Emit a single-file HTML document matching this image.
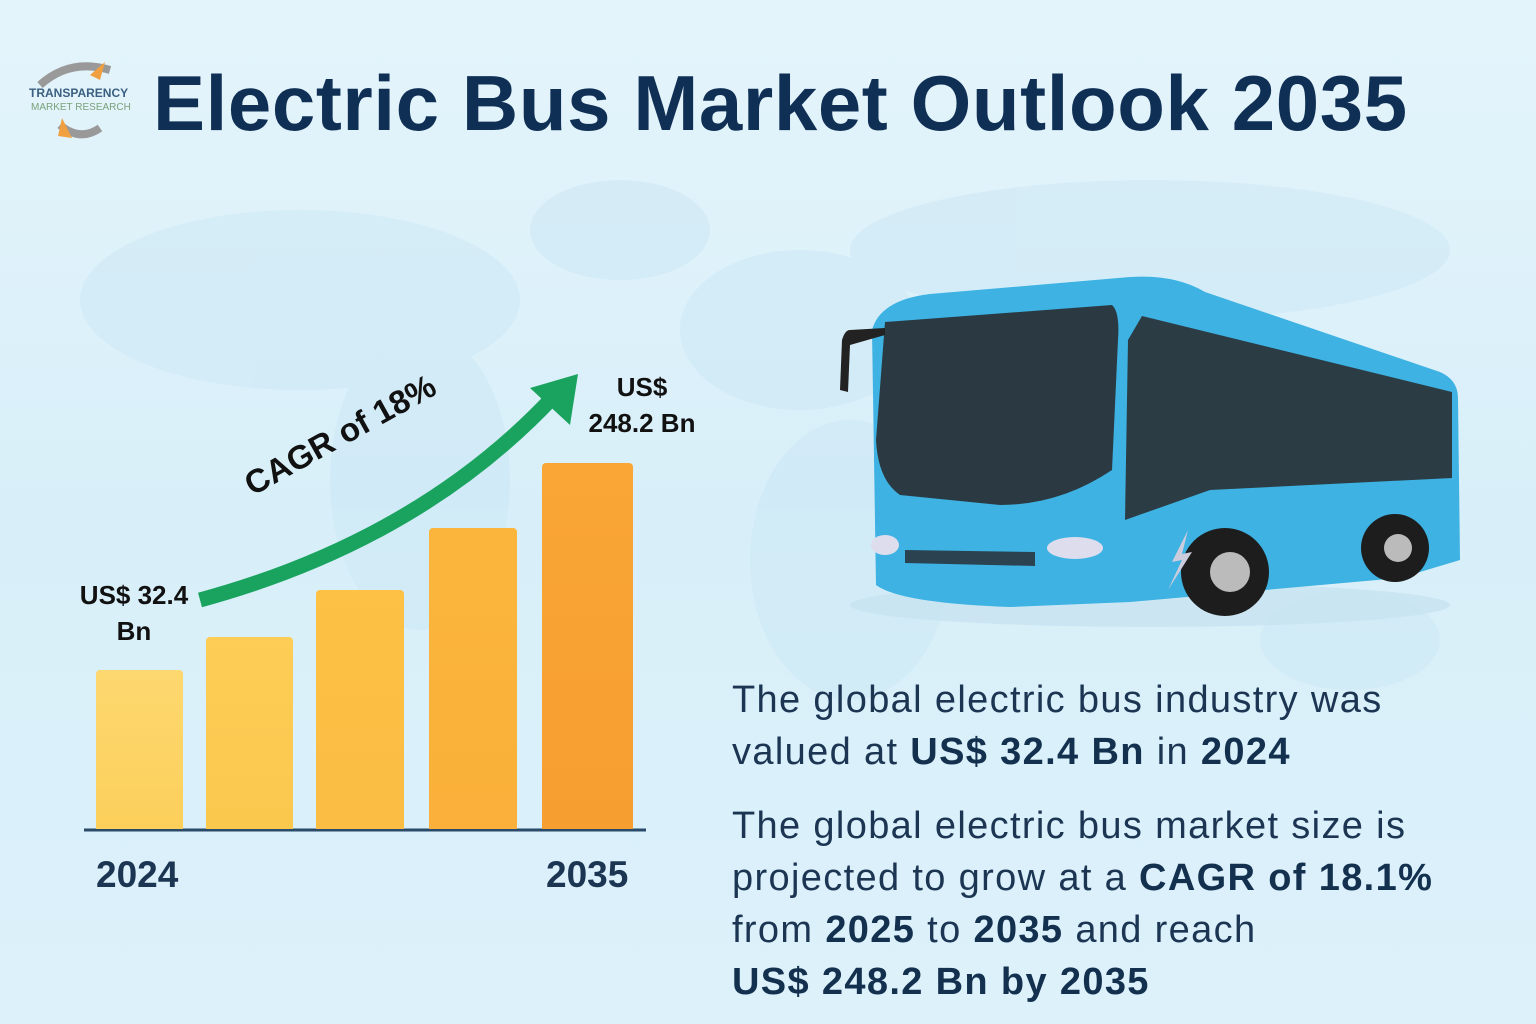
<!DOCTYPE html>
<html><head><style>
body{margin:0;width:1536px;height:1024px;overflow:hidden;background:linear-gradient(180deg,#e4f4fb 0%,#d8eff9 50%,#dcf1fa 100%);font-family:"Liberation Sans",sans-serif;position:relative}
.t{position:absolute;white-space:nowrap}
h1{position:absolute;left:153px;top:58px;margin:0;font-size:78px;font-weight:bold;color:#0f2f55;letter-spacing:0.6px}
.bar{position:absolute;border-radius:4px 4px 0 0}
.lbl{position:absolute;font-size:26px;font-weight:bold;color:#111;text-align:center;line-height:36px}
.yr{position:absolute;font-size:37px;font-weight:bold;color:#1b3553}
.txt{position:absolute;left:732px;font-size:38px;color:#1b3553;line-height:52px;letter-spacing:1.35px}
.txt b{color:#13304f}
</style></head><body>
<svg width="1536" height="1024" style="position:absolute;left:0;top:0">
<g fill="#c9e6f5" opacity="0.45">
<ellipse cx="300" cy="300" rx="220" ry="90"/>
<ellipse cx="420" cy="480" rx="90" ry="150"/>
<ellipse cx="620" cy="230" rx="90" ry="50"/>
<ellipse cx="800" cy="330" rx="120" ry="80"/>
<ellipse cx="850" cy="560" rx="100" ry="140"/>
<ellipse cx="1150" cy="250" rx="300" ry="70"/>
<ellipse cx="1350" cy="640" rx="90" ry="50"/>
</g>
<path d="M40 85 Q70 58 110 70" stroke="#999" stroke-width="8" fill="none"/>
<path d="M90 75 L105 62 L100 80 Z" fill="#f0a040"/>
<path d="M60 125 Q80 142 100 128" stroke="#999" stroke-width="8" fill="none"/>
<path d="M62 118 L72 138 L58 136 Z" fill="#f0a040"/>
<path d="M200 600 Q420 540 555 395" stroke="#1aa35f" stroke-width="15" fill="none"/>
<path d="M530 388 L578 374 L570 425 Z" fill="#1aa35f"/>
<line x1="84" y1="830" x2="646" y2="830" stroke="#2a4a6a" stroke-width="3"/>
<ellipse cx="1150" cy="605" rx="300" ry="22" fill="#c5e2f0" opacity="0.7"/>
<path d="M872 330 Q880 300 930 294 L1130 277 Q1175 274 1205 292 L1440 372 Q1458 380 1458 398 L1460 560 L1400 578 L1130 602 L1010 607 Q900 603 876 585 Z" fill="#3db2e3"/>
<path d="M885 322 L1112 305 Q1120 312 1118 340 L1112 470 Q1060 505 1000 505 L900 495 Q878 480 876 440 Z" fill="#2b3a42"/>
<path d="M1142 316 L1452 392 L1452 478 L1210 490 L1125 520 L1128 340 Z" fill="#2c3c44"/>
<path d="M905 550 L1035 552 L1035 566 L905 563 Z" fill="#2b4350"/>
<ellipse cx="885" cy="545" rx="14" ry="10" fill="#dde"/>
<ellipse cx="1075" cy="548" rx="28" ry="11" fill="#dde"/>
<path d="M850 330 Q845 330 842 340 L840 390 L848 392 L850 345 L885 335 L885 328 Z" fill="#222"/>
<circle cx="1225" cy="572" r="44" fill="#1d1d1d"/><circle cx="1230" cy="572" r="20" fill="#bbb"/>
<circle cx="1395" cy="548" r="34" fill="#1d1d1d"/><circle cx="1398" cy="548" r="14" fill="#bbb"/>
<path d="M1188 530 L1172 562 L1182 560 L1168 590 L1192 552 L1182 554 Z" fill="#ccd"/>
</svg>
<div class="t" style="left:29px;top:86px;font-size:12px;font-weight:bold;color:#3a5f80">TRANSPARENCY</div>
<div class="t" style="left:31px;top:102px;font-size:10px;color:#7aa27a">MARKET RESEARCH</div>
<h1>Electric Bus Market Outlook 2035</h1>
<div class="bar" style="left:96px;top:670px;width:87px;height:159px;background:linear-gradient(#fdd870,#fccf5a)"></div>
<div class="bar" style="left:206px;top:637px;width:87px;height:192px;background:linear-gradient(#fdcd55,#fbc84e)"></div>
<div class="bar" style="left:316px;top:590px;width:88px;height:239px;background:linear-gradient(#fcc145,#fbbd44)"></div>
<div class="bar" style="left:429px;top:528px;width:88px;height:301px;background:linear-gradient(#fbb53c,#fab03a)"></div>
<div class="bar" style="left:542px;top:463px;width:91px;height:366px;background:linear-gradient(#f9a636,#f79e30)"></div>
<div class="lbl" style="left:64px;top:577px;width:140px">US$ 32.4<br>Bn</div>
<div class="lbl" style="left:572px;top:369px;width:140px">US$<br>248.2 Bn</div>
<div class="t" style="left:238px;top:470px;font-size:33px;font-weight:bold;color:#111;transform:rotate(-29deg);transform-origin:left top">CAGR of 18%</div>
<div class="yr" style="left:96px;top:854px">2024</div>
<div class="yr" style="left:546px;top:854px">2035</div>
<div class="txt" style="top:674px">The global electric bus industry was<br>valued at <b>US$ 32.4 Bn</b> in <b>2024</b></div>
<div class="txt" style="top:800px">The global electric bus market size is<br>projected to grow at a <b>CAGR of 18.1%</b><br>from <b>2025</b> to <b>2035</b> and reach<br><b>US$ 248.2 Bn by 2035</b></div>
</body></html>
